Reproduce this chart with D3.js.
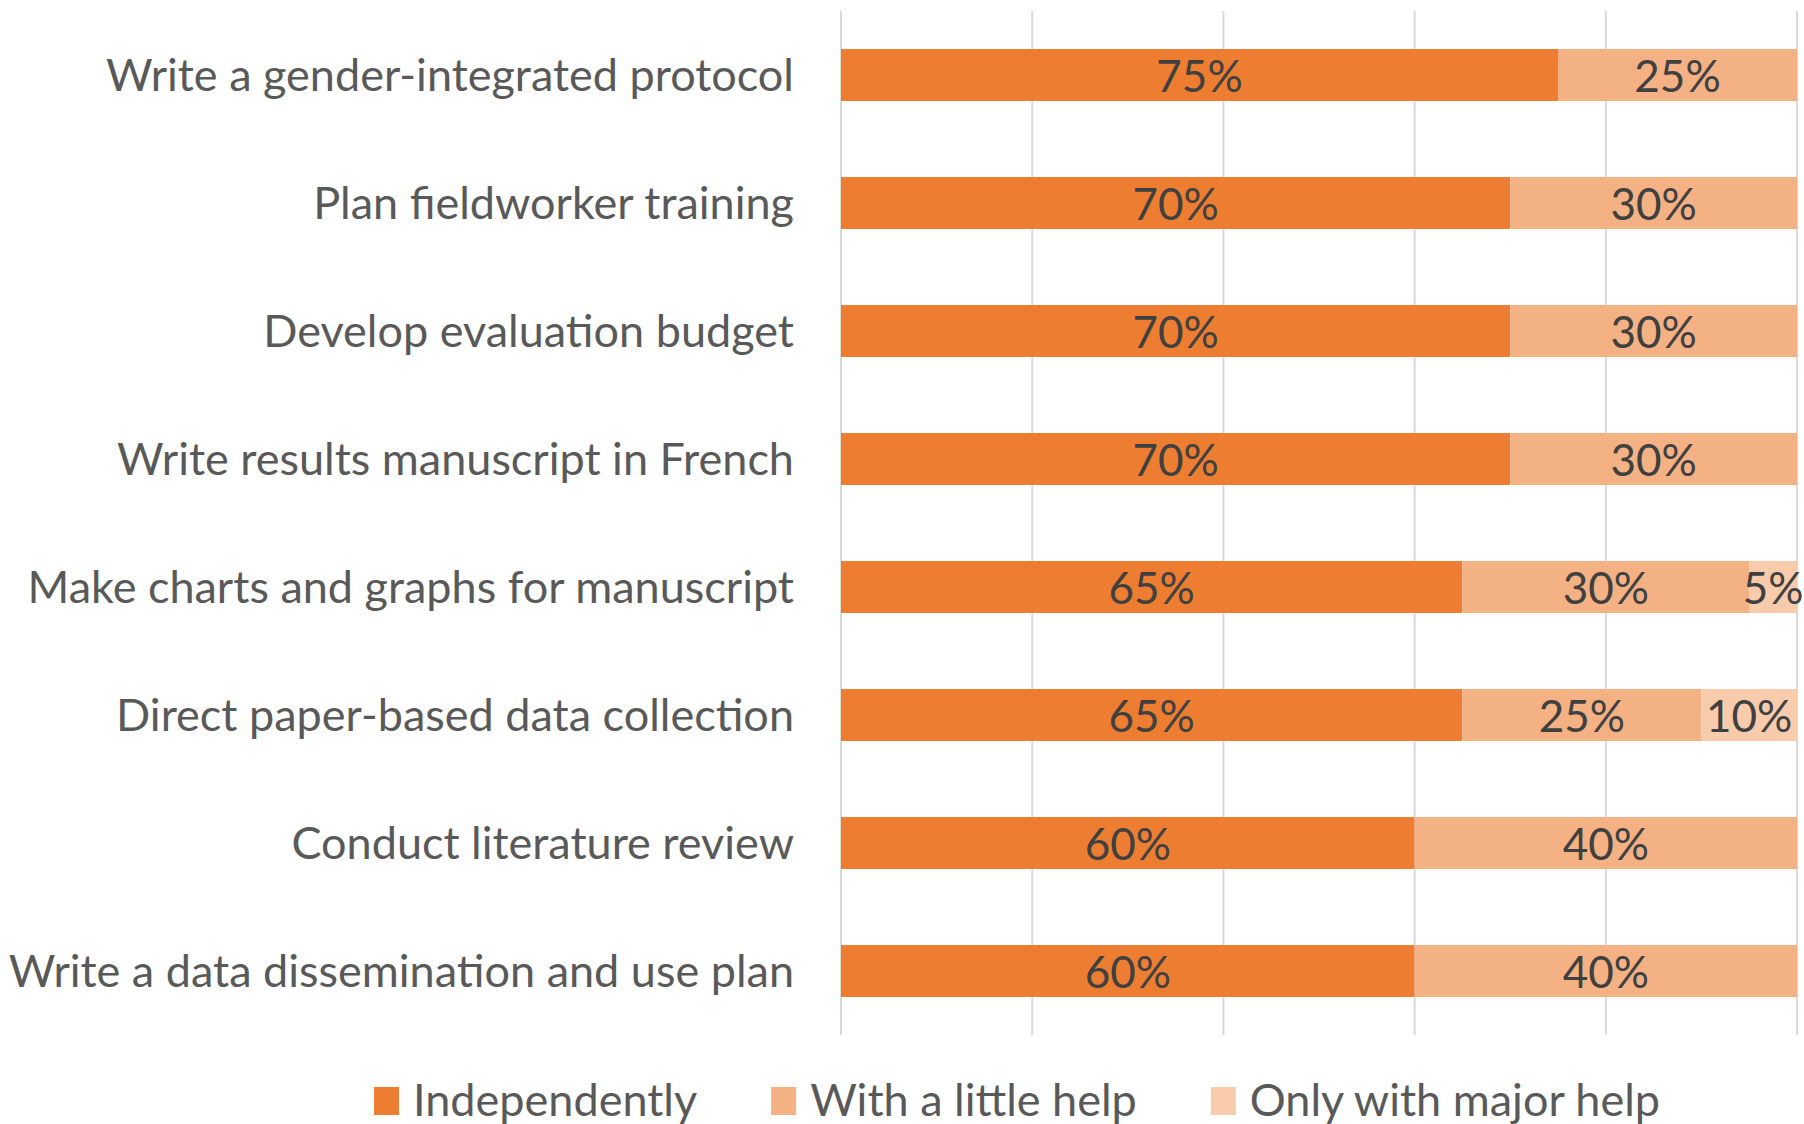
<!DOCTYPE html>
<html>
<head>
<meta charset="utf-8">
<script src="https://cdn.jsdelivr.net/npm/d3@7"></script>
<style>
  html, body { margin: 0; padding: 0; background: #fff; }
  svg { display: block; font-family: Lato, "Open Sans", sans-serif; }
</style>
</head>
<body>
<div class="skills-chart"></div>
<script>
// categories, top to bottom
var tasks = [
  "Write a gender-integrated protocol",
  "Plan fieldworker training",
  "Develop evaluation budget",
  "Write results manuscript in French",
  "Make charts and graphs for manuscript",
  "Direct paper-based data collection",
  "Conduct literature review",
  "Write a data dissemination and use plan"
];
var seriesNames = ["Independently", "With a little help", "Only with major help"];
var independently = [0.75, 0.70, 0.70, 0.70, 0.65, 0.65, 0.60, 0.60];
var littleHelp    = [0.25, 0.30, 0.30, 0.30, 0.30, 0.25, 0.40, 0.40];
var majorHelp     = [0.00, 0.00, 0.00, 0.00, 0.05, 0.10, 0.00, 0.00];
var gridTicks = [0, 0.2, 0.4, 0.6, 0.8, 1.0];

var width = 1804, height = 1124;
var margin = {top: 11, right: 7, bottom: 89, left: 841};

var colors = ["#ED7D31", "#F4B183", "#F8CBAD"];

var rows = tasks.map(function(t, i) {
  return {task: t, vals: [independently[i], littleHelp[i], majorHelp[i]]};
});

var x = d3.scaleLinear().domain([0, 1]).range([margin.left, width - margin.right]);
var y = d3.scaleBand().domain(tasks)
  .range([margin.top, height - margin.bottom])
  .paddingInner(0.594).paddingOuter(0.297);

var svg = d3.select(".skills-chart").append("svg")
  .attr("width", width)
  .attr("height", height);

// vertical gridlines
svg.append("g")
  .selectAll("line")
  .data(gridTicks)
  .enter().append("line")
  .attr("x1", function(d) { return x(d); })
  .attr("x2", function(d) { return x(d); })
  .attr("y1", margin.top)
  .attr("y2", height - margin.bottom)
  .attr("stroke", "#D9D9D9")
  .attr("stroke-width", 2);

// stacked segments
var stack = d3.stack().keys([0, 1, 2]).value(function(d, k) { return d.vals[k]; });
var layers = stack(rows);

var layerG = svg.append("g").selectAll("g")
  .data(layers)
  .enter().append("g")
  .attr("fill", function(d, i) { return colors[i]; });

layerG.selectAll("rect")
  .data(function(d) { return d; })
  .enter().append("rect")
  .filter(function(d) { return d[1] - d[0] > 0; })
  .attr("x", function(d) { return x(d[0]); })
  .attr("width", function(d) { return x(d[1]) - x(d[0]); })
  .attr("y", function(d) { return y(d.data.task); })
  .attr("height", y.bandwidth());

// value labels
layerG.selectAll("text")
  .data(function(d) { return d; })
  .enter().append("text")
  .filter(function(d) { return d[1] - d[0] > 0; })
  .attr("x", function(d) { return (x(d[0]) + x(d[1])) / 2; })
  .attr("y", function(d) { return y(d.data.task) + y.bandwidth() / 2; })
  .attr("dy", "0.38em")
  .attr("text-anchor", "middle")
  .attr("fill", "#404040")
  .style("font-size", "44px")
  .text(function(d) { return Math.round((d[1] - d[0]) * 100) + "%"; });

// category labels
svg.append("g")
  .selectAll("text")
  .data(tasks)
  .enter().append("text")
  .attr("x", 794)
  .attr("y", function(d) { return y(d) + y.bandwidth() / 2; })
  .attr("dy", "0.36em")
  .attr("text-anchor", "end")
  .attr("fill", "#595959")
  .style("font-size", "45px")
  .text(function(d) { return d; });

// legend
var legend = svg.append("g");
var lx = 374;
seriesNames.forEach(function(name, i) {
  legend.append("rect")
    .attr("x", lx).attr("y", 1087)
    .attr("width", 25).attr("height", 28)
    .attr("fill", colors[i]);
  var t = legend.append("text")
    .attr("x", lx + 39).attr("y", 1116)
    .attr("fill", "#595959")
    .style("font-size", "45px")
    .text(name);
  lx += 39 + t.node().getComputedTextLength() + 74;
});
</script>
</body>
</html>
